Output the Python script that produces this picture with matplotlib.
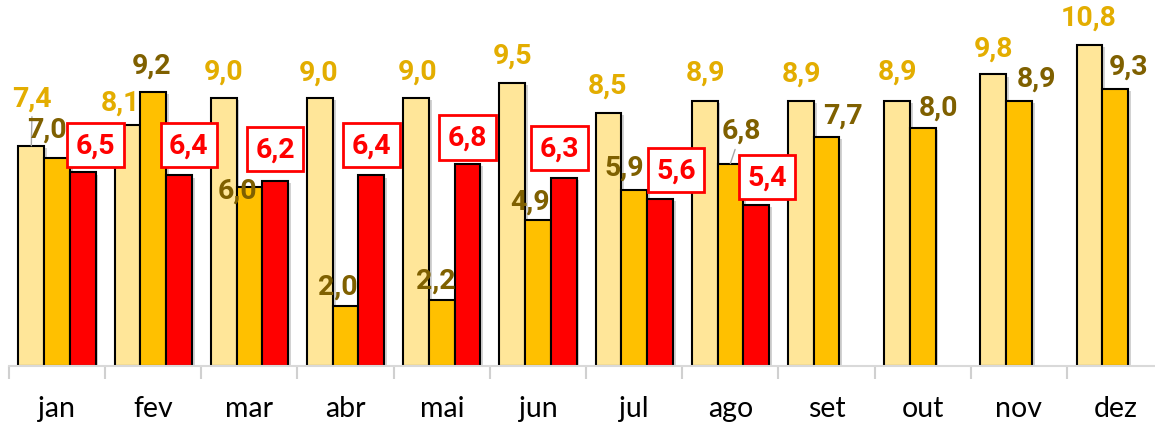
import matplotlib
matplotlib.use('Agg')
import matplotlib.pyplot as plt
import matplotlib.patheffects as pe
from matplotlib.patches import Patch
import numpy as np

months = ['jan', 'fev', 'mar', 'abr', 'mai', 'jun', 'jul', 'ago', 'set', 'out', 'nov', 'dez']
anos = ['2022', '2023', '2024']
v2022 = [7.4, 8.1, 9.0, 9.0, 9.0, 9.5, 8.5, 8.9, 8.9, 8.9, 9.8, 10.8]
v2023 = [7.0, 9.2, 6.0, 2.0, 2.2, 4.9, 5.9, 6.8, 7.7, 8.0, 8.9, 9.3]
v2024 = [6.5, 6.4, 6.2, 6.4, 6.8, 6.3, 5.6, 5.4]

# posicoes dos rotulos (pixels, relativos ao topo da barra)
off1 = [(1, 48), (-7, 23), (0, 27), (-1, 26), (1, 27), (0, 28), (-1, 28), (1, 29), (1, 28), (0, 30), (0, 26), (-1, 28)]
off2 = [(-10, 28), (-2, 27), (-12, -3), (-8, 20), (-6, 20), (-8, 19), (-10, 23), (11, 33), (16, 22), (16, 21), (17, 23), (13, 23)]
off3 = [(13, 27), (10, 30), (0, 32), (0, 30), (0, 26), (-4, 30), (16, 29), (11, 28)]

cores = ['#FFE699', '#FFC000', '#FF0000']
fmt = lambda v: f'{v:.1f}'.replace('.', ',')
rot = dict(family=['Roboto', 'DejaVu Sans'], fontsize=20.5, fontweight='bold')

plt.rcParams['font.family'] = ['Lato', 'DejaVu Sans']

fig = plt.figure(figsize=(11.55, 4.27), dpi=100)
ax = fig.add_axes([8.9 / 1155, 60.5 / 427, 1154.4 / 1155, 366.5 / 427])

x = np.arange(len(months))
w = 0.267
sombra = [pe.SimplePatchShadow(offset=(2, -1.5), shadow_rgbFace='#808080', alpha=0.35), pe.Normal()]

b1 = ax.bar(x - w, v2022, w, color=cores[0], edgecolor='black', linewidth=1.5, label=anos[0])
b2 = ax.bar(x, v2023, w, color=cores[1], edgecolor='black', linewidth=1.5, label=anos[1])
b3 = ax.bar(x[:len(v2024)] + w, v2024, w, color=cores[2], edgecolor='black', linewidth=1.5, label=anos[2])
for bars in (b1, b2, b3):
    for p in bars:
        p.set_path_effects(sombra)

for i, v in enumerate(v2022):
    arrow = dict(arrowstyle='-', color='#A6A6A6', lw=1, shrinkA=2, shrinkB=0) if i == 0 else None
    ax.annotate(fmt(v), (x[i] - w, v), xytext=off1[i], textcoords='offset pixels',
                ha='center', va='center', color='#E3AD00', arrowprops=arrow, **rot)
for i, v in enumerate(v2023):
    arrow = dict(arrowstyle='-', color='#A6A6A6', lw=1, shrinkA=2, shrinkB=0) if i == 7 else None
    ax.annotate(fmt(v), (x[i], v), xytext=off2[i], textcoords='offset pixels',
                ha='center', va='center', color='#7F6000', arrowprops=arrow, **rot)
for i, v in enumerate(v2024):
    ax.annotate(fmt(v), (x[i] + w, v), xytext=off3[i], textcoords='offset pixels',
                ha='center', va='center', color='#FF0000',
                bbox=dict(boxstyle='square,pad=0.3', fc='white', ec='#FF0000', lw=2), **rot)

ax.set_xlim(-0.5, 11.5)
ax.set_ylim(0, 366.5 / 29.7)
ax.set_xticks(x, months)
ax.set_xticks(np.arange(-0.5, 12, 1), minor=True)
ax.tick_params(axis='x', which='major', length=0, pad=21, labelsize=20.5, colors='black')
ax.tick_params(axis='x', which='minor', length=9, width=1.5, color='#D0D0D0')
ax.set_yticks([])
for s in ['top', 'left', 'right']:
    ax.spines[s].set_visible(False)
ax.spines['bottom'].set_color('#D9D9D9')
ax.spines['bottom'].set_linewidth(1.5)

# legenda cortada no topo, como na imagem original
handles = [Patch(facecolor=c, edgecolor='black', lw=1.5) for c in cores]
fig.legend(handles, anos, loc='lower center', bbox_to_anchor=(0.491, 1 - 2 / 427),
           ncol=3, frameon=False, borderpad=0, borderaxespad=0, fontsize=14, labelcolor='#595959',
           handlelength=1.0, handleheight=0.7, handletextpad=1.0, columnspacing=2.9)

plt.savefig('out.png', dpi=100)
